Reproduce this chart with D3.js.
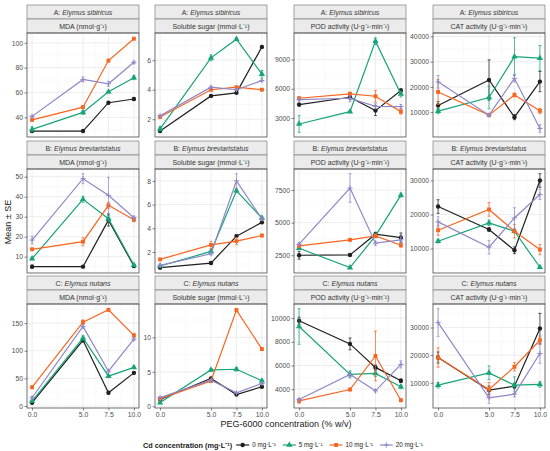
<!DOCTYPE html>
<html><head><meta charset="utf-8">
<script src="https://cdn.jsdelivr.net/npm/d3@7"></script>
<style>
body{margin:0;background:#fff}
text{font-family:"Liberation Sans",Arial,Helvetica,sans-serif}
</style>
</head><body>
<svg id="chart" width="550" height="451"></svg>
<script>
// ---------- data ----------
const xValues = [0, 5, 7.5, 10];
const xTickLabels = ["0.0", "5.0", "7.5", "10.0"];
const cdLevels = ["0 mg·L⁻¹", "5 mg·L⁻¹", "10 mg·L⁻¹", "20 mg·L⁻¹"];
const speciesPrefix = ["A: ", "B: ", "C: "];
const speciesNames = ["Elymus sibiricus", "Elymus breviaristatus", "Elymus nutans"];
const variables = ["MDA (nmol·g⁻¹)", "Soluble sugar (mmol·L⁻¹)", "POD activity (U·g⁻¹·min⁻¹)", "CAT activity (U·g⁻¹·min⁻¹)"];

// series order: 0, 5, 10, 20 mg·L⁻¹ ; values at PEG 0, 5, 7.5, 10
const A_MDA    = [[29,29,51.8,54.8],[30.3,44,60.6,71.9],[38,48.2,85.7,103.3],[40.8,70.5,67,84.3]];
const A_MDA_se = [[1,0.5,0.8,1],[2,1.5,1,1.5],[1,1,1,0.8],[1,2,2,1]];
const A_SUG    = [[1.2,3.58,3.79,6.9],[1.35,6.16,7.42,5.05],[2.16,4.0,4.17,4.0],[2.23,4.17,4.0,4.62]];
const A_SUG_se = [[0.08,0.05,0.05,0.05],[0.15,0.2,0.1,0.25],[0.1,0.05,0.05,0.05],[0.05,0.08,0.05,0.05]];
const A_POD    = [[4371,5125,3754,5811],[2382,3651,10886,5468],[5022,5468,5228,3651],[4885,5022,4200,4165]];
const A_POD_se = [[150,200,500,200],[850,100,350,300],[150,200,600,250],[150,350,250,200]];
const A_CAT    = [[12644,22736,8000,22100],[10400,15800,32000,31400],[18000,8800,16800,10500],[22000,8800,23400,3500]];
const A_CAT_se = [[1500,8000,1000,4000],[1000,4500,7500,5000],[5000,500,800,1000],[2500,500,1500,1500]];

const B_MDA    = [[5,5,28.3,5.3],[9,38.7,29,5.8],[13.7,17.5,35.7,28.5],[18.3,49,40.7,29.5]];
const B_MDA_se = [[0.8,0.4,3,0.5],[0.5,1.5,1.5,0.5],[0.5,2,1.5,1],[2,2.5,9,0.8]];
const B_SUG    = [[0.68,1.07,3.34,4.5],[0.82,2.05,7.16,4.87],[1.38,2.6,2.92,3.39],[0.88,1.85,8.0,4.8]];
const B_SUG_se = [[0.05,0.1,0.1,0.1],[0.05,0.1,0.15,0.15],[0.05,0.3,0.3,0.1],[0.1,0.1,0.6,0.1]];
const B_POD    = [[2500,2526,4115,3859],[3039,1551,3987,7115],[3218,3680,3987,3269],[3346,7654,3423,3680]];
const B_POD_se = [[300,100,150,350],[100,50,100,150],[100,80,150,150],[100,1100,150,250]];
const B_CAT    = [[22350,15600,9500,30000],[12160,17550,15100,4500],[15400,21500,15100,9700],[17850,10400,19000,25900]];
const B_CAT_se = [[2000,500,1000,2000],[500,800,500,300],[1500,2000,2000,1500],[1500,2000,3000,1500]];

const C_MDA    = [[6,118.8,24,60],[9,123,54,70],[34,151.8,174,127.8],[15,144,63,121]];
const C_MDA_se = [[1,3,2,2],[2,4,2,2],[2,4,2,3],[2,3,2,2]];
const C_SUG    = [[0.98,4.05,1.7,2.83],[0.54,5.27,5.37,3.7],[1.12,3.66,13.95,8.3],[1.27,3.8,1.95,3.3]];
const C_SUG_se = [[0.1,0.15,0.1,0.1],[0.1,0.2,0.25,0.2],[0.1,0.1,0.2,0.2],[0.1,0.1,0.1,0.1]];
const C_POD    = [[9774,7821,5840,4708],[9292,5246,5330,4200],[3010,3970,6800,3066],[3123,5246,3860,6094]];
const C_POD_se = [[300,500,200,150],[1500,300,250,150],[200,100,2100,100],[100,200,100,300]];
const C_CAT    = [[19150,7350,8800,29640],[9150,13600,9150,9400],[19150,7600,15800,25400],[31800,4600,5900,20600]];
const C_CAT_se = [[2000,1500,1000,5500],[1000,2500,3000,1000],[3500,2500,1500,1500],[5000,2000,1000,3500]];

// y tick labels per panel
const A_MDA_ticks = [40,60,80,100];
const A_SUG_ticks = [2,4,6];
const A_POD_ticks = [3000,6000,9000];
const A_CAT_ticks = [10000,20000,30000,40000];
const B_MDA_ticks = [10,20,30,40,50];
const B_SUG_ticks = [2,4,6,8];
const B_POD_ticks = [2500,5000,7500];
const B_CAT_ticks = [10000,20000,30000];
const C_MDA_ticks = [0,50,100,150];
const C_SUG_ticks = [0,5,10];
const C_POD_ticks = [4000,6000,8000,10000];
const C_CAT_ticks = [10000,20000,30000];

const panels = [
  [A_MDA,A_MDA_se,A_MDA_ticks],[A_SUG,A_SUG_se,A_SUG_ticks],[A_POD,A_POD_se,A_POD_ticks],[A_CAT,A_CAT_se,A_CAT_ticks],
  [B_MDA,B_MDA_se,B_MDA_ticks],[B_SUG,B_SUG_se,B_SUG_ticks],[B_POD,B_POD_se,B_POD_ticks],[B_CAT,B_CAT_se,B_CAT_ticks],
  [C_MDA,C_MDA_se,C_MDA_ticks],[C_SUG,C_SUG_se,C_SUG_ticks],[C_POD,C_POD_se,C_POD_ticks],[C_CAT,C_CAT_se,C_CAT_ticks]
];

// ---------- styles ----------
const colors = ["#1f1f1f", "#17a47a", "#f7651f", "#8f87c8"];
const shapes = ["circle", "triangle", "square", "plus"];
const colX = [27, 155, 294, 433];
const panelW = 112;
const rowTop = [5, 141, 276];
const stripH = 14;
const plotH = 104;

const svg = d3.select("#chart");
svg.append("rect").attr("width",550).attr("height",451).attr("fill","#fff");

function drawMarker(g, shape, x, y, color) {
  if (shape === "plus") {
    const s = 2.6;
    g.append("path").attr("d", `M${x-s},${y}H${x+s}M${x},${y-s}V${y+s}`)
      .attr("stroke", color).attr("stroke-width", 1).attr("fill","none");
  } else {
    const t = shape === "circle" ? d3.symbolCircle : shape === "triangle" ? d3.symbolTriangle : d3.symbolSquare;
    const size = shape === "circle" ? 15 : shape === "triangle" ? 17 : 15;
    g.append("path").attr("d", d3.symbol().type(t).size(size)())
      .attr("transform", `translate(${x},${y})`).attr("fill", color);
  }
}

panels.forEach((p, i) => {
  const r = Math.floor(i / 4), c = i % 4;
  const [means, ses, ticks] = p;
  const x0 = colX[c], top = rowTop[r], py = top + 2 * stripH;
  const g = svg.append("g");

  // strips
  [0, 1].forEach(k => {
    g.append("rect").attr("x", x0).attr("y", top + k * stripH).attr("width", panelW).attr("height", stripH)
      .attr("fill", "#ebebeb").attr("stroke", "#7f7f7f").attr("stroke-width", 0.7);
  });
  const t1 = g.append("text").attr("x", x0 + panelW / 2).attr("y", top + stripH / 2 + 2.5)
    .attr("text-anchor", "middle").attr("font-size", 7).attr("font-weight", "normal").attr("fill", "#333");
  t1.append("tspan").text(speciesPrefix[r]);
  t1.append("tspan").attr("font-style", "italic").text(speciesNames[r]);
  g.append("text").attr("x", x0 + panelW / 2).attr("y", top + stripH * 1.5 + 2.5)
    .attr("text-anchor", "middle").attr("font-size", 7).attr("font-weight", "normal").attr("fill", "#333").text(variables[c]);

  // scales
  let lo = Infinity, hi = -Infinity;
  means.forEach((s, si) => s.forEach((v, j) => { lo = Math.min(lo, v - ses[si][j]); hi = Math.max(hi, v + ses[si][j]); }));
  const pad = (hi - lo) * 0.05;
  const y = d3.scaleLinear().domain([lo - pad, hi + pad]).range([py + plotH, py]);
  const x = d3.scaleLinear().domain([-0.5, 10.5]).range([x0, x0 + panelW]);

  // grid
  const gg = g.append("g");
  const minorY = [];
  for (let k = 0; k < ticks.length + 1; k++) {
    const step = ticks[1] - ticks[0];
    const m = ticks[0] - step / 2 + k * step;
    if (m > y.domain()[0] && m < y.domain()[1]) minorY.push(m);
  }
  minorY.forEach(v => gg.append("line").attr("x1", x0).attr("x2", x0 + panelW).attr("y1", y(v)).attr("y2", y(v)).attr("stroke", "#f2f2f2").attr("stroke-width", 0.5));
  [2.5, 6.25, 8.75].forEach(v => gg.append("line").attr("y1", py).attr("y2", py + plotH).attr("x1", x(v)).attr("x2", x(v)).attr("stroke", "#f2f2f2").attr("stroke-width", 0.5));
  ticks.forEach(v => gg.append("line").attr("x1", x0).attr("x2", x0 + panelW).attr("y1", y(v)).attr("y2", y(v)).attr("stroke", "#e8e8e8").attr("stroke-width", 0.8));
  xValues.forEach(v => gg.append("line").attr("y1", py).attr("y2", py + plotH).attr("x1", x(v)).attr("x2", x(v)).attr("stroke", "#e8e8e8").attr("stroke-width", 0.8));

  // data
  means.forEach((s, si) => {
    const col = colors[si];
    const pts = s.map((v, j) => [x(xValues[j]), y(v)]);
    s.forEach((v, j) => {
      const e = ses[si][j], xx = x(xValues[j]);
      g.append("path").attr("d", `M${xx-1.5},${y(v+e)}H${xx+1.5}M${xx},${y(v+e)}V${y(v-e)}M${xx-1.5},${y(v-e)}H${xx+1.5}`)
        .attr("stroke", col).attr("stroke-width", 0.8).attr("fill", "none").attr("opacity", 0.9);
    });
    g.append("path").attr("d", d3.line()(pts)).attr("fill", "none").attr("stroke", col).attr("stroke-width", 1.2);
    pts.forEach(pt => drawMarker(g, shapes[si], pt[0], pt[1], col));
  });

  // border
  g.append("rect").attr("x", x0).attr("y", py).attr("width", panelW).attr("height", plotH)
    .attr("fill", "none").attr("stroke", "#333").attr("stroke-width", 0.7);

  // y axis
  const ya = g.append("g").attr("transform", `translate(${x0},0)`)
    .call(d3.axisLeft(y).tickValues(ticks).tickSize(2.5).tickPadding(1.5).tickFormat(d3.format("d")));
  ya.select(".domain").remove();
  ya.selectAll("line").attr("stroke", "#333").attr("stroke-width", 0.6);
  ya.selectAll("text").attr("font-size", 6.8).attr("fill", "#4d4d4d").attr("font-family", "Liberation Sans, Arial, sans-serif");

  // x axis (bottom row only)
  if (r === 2) {
    const xa = g.append("g").attr("transform", `translate(0,${py + plotH})`)
      .call(d3.axisBottom(x).tickValues(xValues).tickSize(2.5).tickPadding(1.5).tickFormat((d, k) => xTickLabels[k]));
    xa.select(".domain").remove();
    xa.selectAll("line").attr("stroke", "#333").attr("stroke-width", 0.6);
    xa.selectAll("text").attr("font-size", 6.8).attr("fill", "#4d4d4d").attr("font-family", "Liberation Sans, Arial, sans-serif");
  }
});

// axis titles
svg.append("text").attr("x", 286).attr("y", 427).attr("text-anchor", "middle").attr("font-size", 9).attr("fill", "#1a1a1a")
  .text("PEG-6000 concentration (% w/v)");
svg.append("text").attr("transform", "translate(11,222) rotate(-90)").attr("text-anchor", "middle").attr("font-size", 9).attr("fill", "#1a1a1a")
  .text("Mean ± SE");

// legend
const lg = svg.append("g").attr("transform", "translate(143,445)");
const lt = lg.append("text").attr("x", 0).attr("y", 2.6).attr("font-size", 7.3).attr("font-weight", "bold").attr("fill", "#1a1a1a")
  .text("Cd concentration (mg·L⁻¹)");
let cx = lt.node().getComputedTextLength() + 4;
cdLevels.forEach((lab, k) => {
  lg.append("line").attr("x1", cx).attr("x2", cx + 13).attr("y1", 0).attr("y2", 0).attr("stroke", colors[k]).attr("stroke-width", 1.2);
  drawMarker(lg, shapes[k], cx + 6.5, 0, colors[k]);
  const tt = lg.append("text").attr("x", cx + 16).attr("y", 2.3).attr("font-size", 6.3).attr("fill", "#1a1a1a").text(lab);
  cx += 16 + tt.node().getComputedTextLength() + 7;
});
</script>
</body></html>
